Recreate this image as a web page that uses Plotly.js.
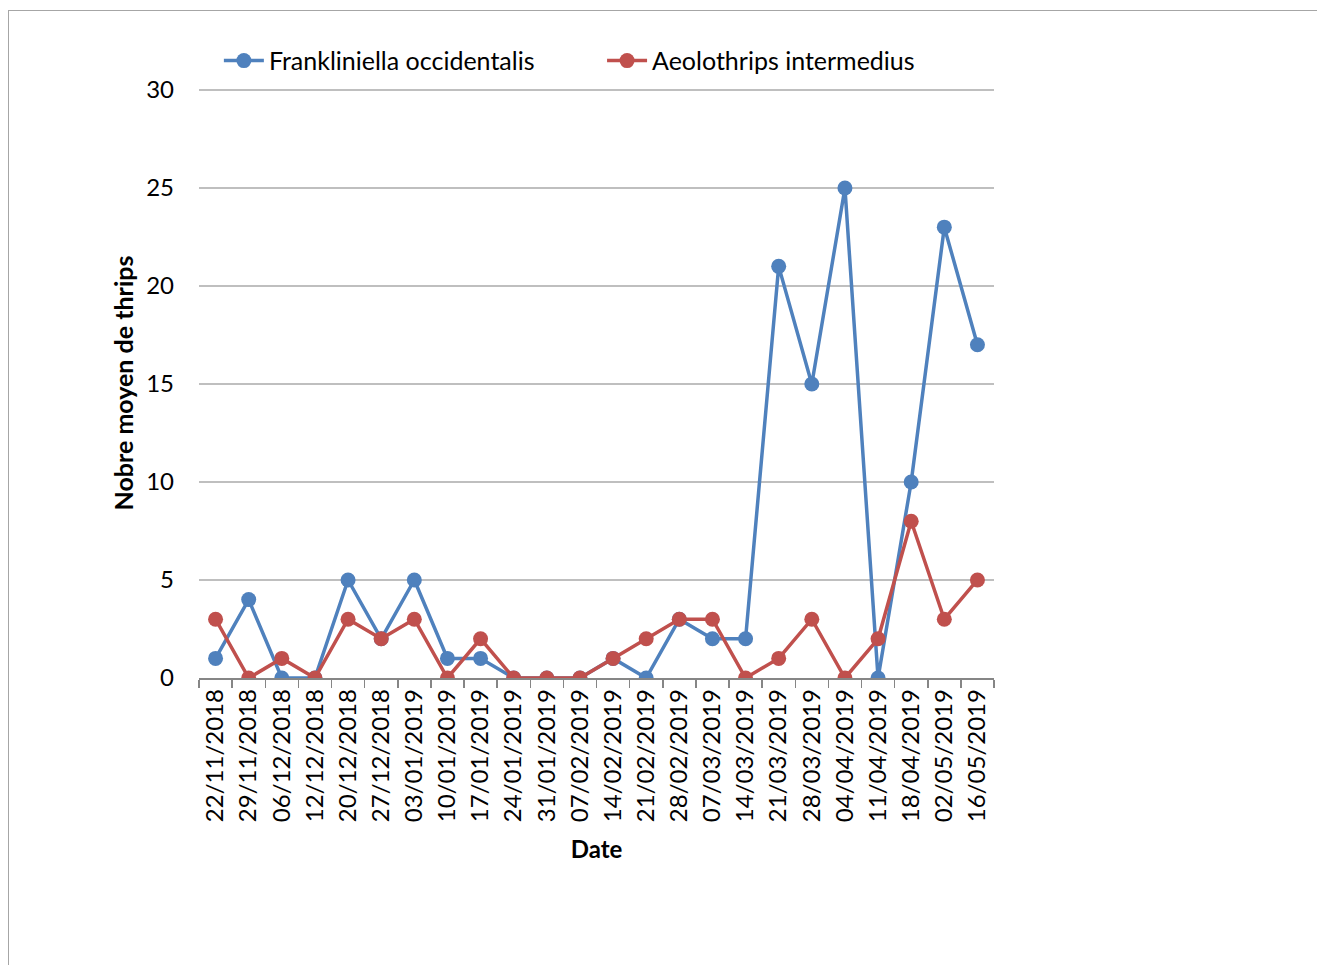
<!DOCTYPE html>
<html>
<head>
<meta charset="utf-8">
<script src="https://cdn.plot.ly/plotly-3.0.1.min.js"></script>
<style>
html,body{margin:0;padding:0;background:#fff;}
#frame{position:absolute;left:8px;top:10px;width:1309px;height:955px;border-left:1.5px solid #a6a6a6;border-top:1.5px solid #a6a6a6;box-sizing:border-box;}
#chart{position:absolute;left:0;top:0;width:1317px;height:965px;}
</style>
</head>
<body>
<div id="frame"></div>
<div id="chart"></div>
<script>
const dates = ["22/11/2018","29/11/2018","06/12/2018","12/12/2018","20/12/2018","27/12/2018","03/01/2019","10/01/2019","17/01/2019","24/01/2019","31/01/2019","07/02/2019","14/02/2019","21/02/2019","28/02/2019","07/03/2019","14/03/2019","21/03/2019","28/03/2019","04/04/2019","11/04/2019","18/04/2019","02/05/2019","16/05/2019"];
const frankliniella = [1,4,0,0,5,2,5,1,1,0,0,0,1,0,3,2,2,21,15,25,0,10,23,17];
const aeolothrips = [3,0,1,0,3,2,3,0,2,0,0,0,1,2,3,3,0,1,3,0,2,8,3,5];
const yTicks = [0,5,10,15,20,25,30];

const font = "Lato, 'Open Sans', 'DejaVu Sans', sans-serif";

const traces = [
  {x: dates, y: frankliniella, name: "Frankliniella occidentalis", type: "scatter", mode: "lines+markers",
   line: {color: "#4f81bd", width: 3.5}, marker: {color: "#4f81bd", size: 15}, legend: "legend"},
  {x: dates, y: aeolothrips, name: "Aeolothrips intermedius", type: "scatter", mode: "lines+markers",
   line: {color: "#c0504d", width: 3.5}, marker: {color: "#c0504d", size: 15}, legend: "legend2"}
];

const legendFont = {family: font, size: 25, color: "#000"};
const layout = {
  width: 1317, height: 965,
  paper_bgcolor: "rgba(0,0,0,0)", plot_bgcolor: "rgba(0,0,0,0)",
  margin: {l: 199, r: 323, t: 88, b: 287},
  font: {family: font, size: 24, color: "#000"},
  showlegend: true,
  legend: {orientation: "h", x: 0.025, y: 1.046, xanchor: "left", yanchor: "middle",
           font: legendFont, itemwidth: 40, bgcolor: "rgba(0,0,0,0)"},
  legend2: {orientation: "h", x: 0.507, y: 1.046, xanchor: "left", yanchor: "middle",
           font: legendFont, itemwidth: 40, bgcolor: "rgba(0,0,0,0)"},
  xaxis: {
    type: "category", tickangle: -90, tickson: "boundaries", ticks: "outside", ticklen: 8,
    tickcolor: "#868686", tickwidth: 1.5, showline: true, linecolor: "#868686", linewidth: 1.5,
    showgrid: false, tickfont: {family: font, size: 24, color: "#000"},
    title: {text: "<b>Date</b>", font: {family: font, size: 24, color: "#000"}, standoff: 20},
    range: [-0.5, dates.length - 0.5]
  },
  yaxis: {
    range: [0, 30.1], tickvals: yTicks, ticktext: yTicks.map(String), showgrid: true, gridcolor: "#bfbfbf",
    gridwidth: 1.2, zeroline: false, showline: false, ticks: "", ticklen: 0, ticklabelstandoff: 24,
    tickfont: {family: font, size: 24, color: "#000"},
    title: {text: "<b>Nobre moyen de thrips</b>", font: {family: font, size: 25, color: "#000"}, standoff: 5}
  }
};

Plotly.newPlot("chart", traces, layout, {displayModeBar: false, staticPlot: true});
</script>
</body>
</html>
